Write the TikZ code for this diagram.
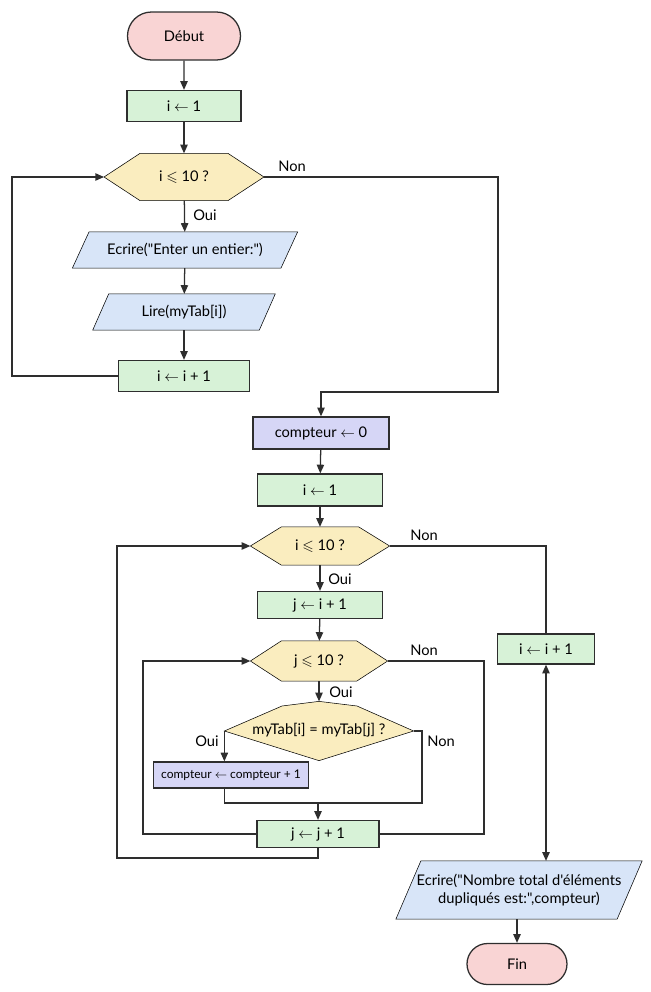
\documentclass[tikz,border=0pt]{standalone}
\usepackage{amssymb}
\usepackage{fontspec}
\setmainfont{Lato}[Ligatures=TeXOff]
\usetikzlibrary{arrows.meta,shapes.misc,backgrounds}
\definecolor{cline}{HTML}{2E2E2E}
\definecolor{cpink}{HTML}{F9D4D4}
\definecolor{cgreen}{HTML}{D7F2D7}
\definecolor{cyellow}{HTML}{FAEDBF}
\definecolor{cblue}{HTML}{D8E5F8}
\definecolor{cpurple}{HTML}{D6D6F6}
\newcommand\dq{\symbol{34}}
\newcommand\sq{\symbol{39}}
\newcommand\hexdraw[2]{\draw[fill=cyellow] (#1.west) -- ([xshift=#2]#1.north west) -- ([xshift=-#2]#1.north east) -- (#1.east) -- ([xshift=-#2]#1.south east) -- ([xshift=#2]#1.south west) -- cycle;}
\newcommand\paradraw[2]{\draw[fill=cblue] ([xshift=#2]#1.north west) -- (#1.north east) -- ([xshift=-#2]#1.south east) -- (#1.south west) -- cycle;}
\begin{document}
\begin{tikzpicture}[x=0.75pt,y=-0.75pt,line width=0.95pt,color=cline,
  txt/.style={font=\fontsize{11}{13.5}\selectfont,text=black,inner sep=0pt,align=center},
  term/.style={txt,rounded rectangle,draw=cline,fill=cpink},
  procbox/.style={txt,rectangle,draw=cline,fill=cgreen},
  countbox/.style={txt,rectangle,draw=cline,fill=cpurple},
  shapebox/.style={txt,rectangle,draw=none},
  lbl/.style={font=\fontsize{11}{13}\selectfont,text=black,inner sep=0pt},
  arr/.style={-{Triangle[length=6.5pt,width=5.5pt]}},
  darr/.style={{Triangle[length=6.5pt,width=5.5pt]}-{Triangle[length=6.5pt,width=5.5pt]}}]
\useasboundingbox (0,0) rectangle (650,992);

% nodes
\node[term,minimum width=84.75pt,minimum height=36pt] (deb) at (184,36) {Début};
\node[procbox,minimum width=85.5pt,minimum height=23.25pt] (a1) at (184,106) {i $\leftarrow$ 1};
\node[shapebox,minimum width=119pt,minimum height=34.5pt] (h1) at (184,177) {i $\leqslant$ 10 ?};
\node[shapebox,minimum width=168pt,minimum height=26.25pt] (e1) at (185,250) {Ecrire(\dq Enter un entier:\dq)};
\node[shapebox,minimum width=136pt,minimum height=26.25pt] (l1) at (184,312) {Lire(myTab[i])};
\node[procbox,minimum width=98.25pt,minimum height=23.25pt] (a2) at (184,376) {i $\leftarrow$ i + 1};
\node[countbox,minimum width=102pt,minimum height=24pt] (c0) at (321,433) {compteur $\leftarrow$ 0};
\node[procbox,minimum width=93.75pt,minimum height=24pt] (b1) at (320,490) {i $\leftarrow$ 1};
\node[shapebox,minimum width=103.5pt,minimum height=27.75pt] (h2) at (320,546) {i $\leqslant$ 10 ?};
\node[procbox,minimum width=93.75pt,minimum height=20.25pt] (j1) at (320,605) {j $\leftarrow$ i + 1};
\node[shapebox,minimum width=102pt,minimum height=29.25pt] (h3) at (319,661) {j $\leqslant$ 10 ?};
\node[shapebox,minimum width=141pt,minimum height=43.5pt] (d) at (319,731) {\raisebox{3pt}{myTab[i] = myTab[j] ?}};
\node[countbox,minimum width=116.25pt,minimum height=19.5pt,font=\fontsize{9}{10.5}\selectfont] (cc) at (231,775) {compteur $\leftarrow$ compteur + 1};
\node[procbox,minimum width=91.5pt,minimum height=20.25pt] (j2) at (318,834) {j $\leftarrow$ j + 1};
\node[procbox,minimum width=72.75pt,minimum height=22.5pt] (a3) at (546,649) {i $\leftarrow$ i + 1};
\node[shapebox,minimum width=183.75pt,minimum height=42.75pt] (e2) at (519,890) {Ecrire(\dq Nombre total d\sq éléments\\dupliqués est:\dq,compteur)};
\node[term,minimum width=75pt,minimum height=30.75pt] (fin) at (517,964) {Fin};

% shapes behind text
\begin{scope}[on background layer]
\hexdraw{h1}{27pt}
\hexdraw{h2}{23.25pt}
\hexdraw{h3}{23.25pt}
\paradraw{e1}{12.5pt}
\paradraw{l1}{12pt}
\paradraw{e2}{18.75pt}
\draw[fill=cyellow] (d.west) -- ([shift={(-37,-25)}]d.center) -- (d.north) -- ([shift={(38,-25)}]d.center) -- (d.east) -- (d.south) -- cycle;
\end{scope}

% labels
\node[lbl] (n1) at (292,166) {Non};
\node[lbl] (o1) at (205,215) {Oui};
\node[lbl] (n2) at (424,535) {Non};
\node[lbl] (o2) at (340,579) {Oui};
\node[lbl] (n3) at (424,650) {Non};
\node[lbl] (o3) at (341,692) {Oui};
\node[lbl] (o4) at (207,741) {Oui};
\node[lbl] (n4) at (441,741) {Non};

% coordinates
\coordinate (L1) at (12,376);
\coordinate (R1) at (498,392);
\coordinate (L2) at (117,858);
\coordinate (L3) at (143,834);
\coordinate (R3) at (484,661);
\coordinate (dR) at (422,731);
\coordinate (m) at (318,803);

% connectors
\draw[arr] (deb) -- (a1);
\draw[arr] (a1) -- (h1);
\draw[arr] (h1) -- (e1);
\draw[arr] (e1) -- (l1);
\draw[arr] (l1) -- (a2);
\draw[arr] (a2.west) -- (L1) |- (h1.west);
\draw[arr] (h1.east) -| (R1) -| (c0.north);
\draw[arr] (c0) -- (b1);
\draw[arr] (b1) -- (h2);
\draw[arr] (h2) -- (j1);
\draw[arr] (j1) -- (h3);
\draw[arr] (h3) -- (d);
\draw[arr] (d.west) -- (d.west |- cc.north);
\draw (d.west |- cc.south) |- (m);
\draw (d.east) -- (dR) |- (m);
\draw[arr] (m) -- (j2.north);
\draw (h3.east) -- (R3) |- (j2.east);
\draw[arr] (j2.west) -- (L3) |- (h3.west);
\draw[arr] (j2.south) |- (L2) |- (h2.west);
\draw (h2.east) -| (a3.north);
\draw[darr] (a3.south) -- (a3.south |- e2.north);
\draw[arr] (fin.north |- e2.south) -- (fin.north);
\end{tikzpicture}
\end{document}
